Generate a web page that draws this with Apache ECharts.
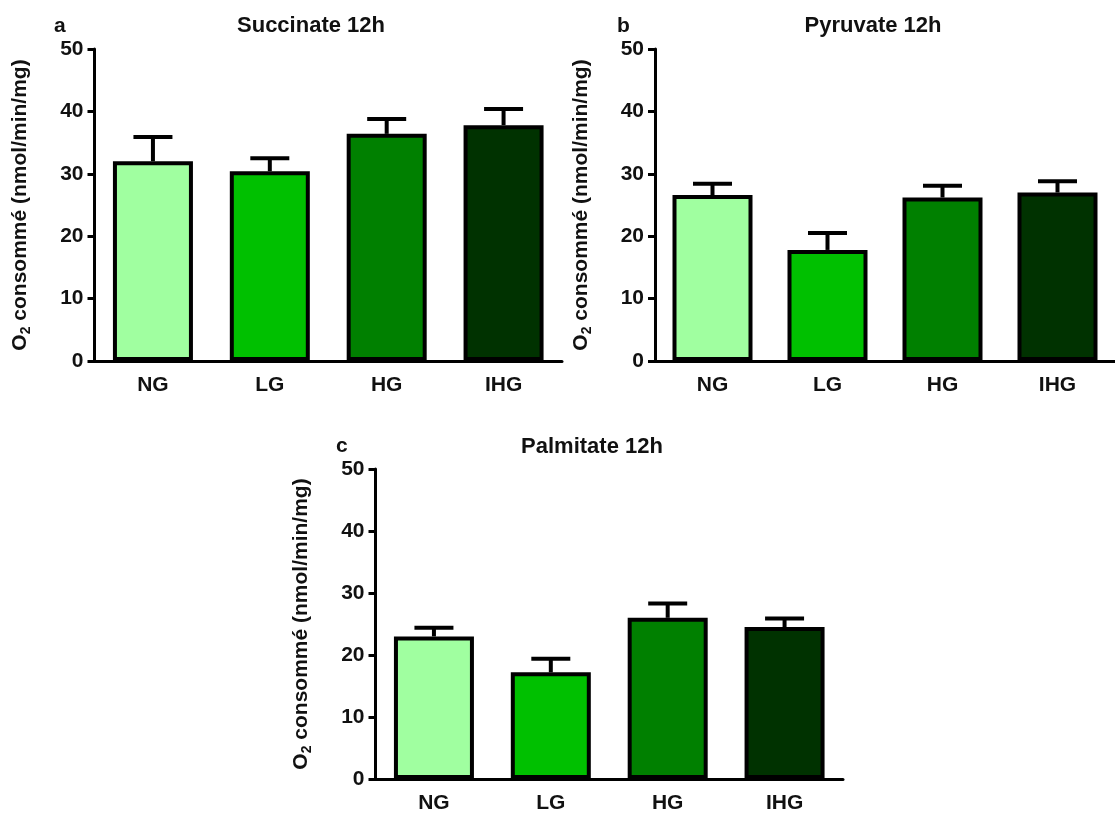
<!DOCTYPE html>
<html>
<head>
<meta charset="utf-8">
<script src="https://cdn.jsdelivr.net/npm/echarts@6/dist/echarts.min.js"></script>
<style>html,body{margin:0;padding:0;background:#fff}#c{width:1115px;height:814px}</style>
</head>
<body>
<div id="c"></div>
<script>
const categories = ['NG', 'LG', 'HG', 'IHG'];
const barColors = ['#A0FFA0', '#00C000', '#008000', '#003200'];
const yTicks = [0, 10, 20, 30, 40, 50];

const succinateMean = [32.0, 30.4, 36.4, 37.8];
const succinateErr  = [3.9, 2.1, 2.4, 2.6];
const pyruvateMean  = [26.6, 17.8, 26.2, 27.0];
const pyruvateErr   = [1.8, 2.7, 1.9, 1.8];
const palmitateMean = [23.0, 17.2, 26.0, 24.5];
const palmitateErr  = [1.4, 2.2, 2.3, 1.4];

const panelTitles = ['Succinate 12h', 'Pyruvate 12h', 'Palmitate 12h'];
const panelLetters = ['a', 'b', 'c'];
const yName = '{a|O}{s|2}{a| consommé (nmol/min/mg)}';

const FONT = 'Liberation Sans, Arial, sans-serif';
const chart = echarts.init(document.getElementById('c'), null, {renderer: 'canvas'});

const grids = [
  {left: 94.5, top: 49, width: 467.5, height: 312},
  {left: 655, top: 49, width: 467.5, height: 312},
  {left: 375.5, top: 469, width: 467.5, height: 312}
];
const means = [succinateMean, pyruvateMean, palmitateMean];
const errs = [succinateErr, pyruvateErr, palmitateErr];

const xAxes = grids.map((g, i) => ({
  type: 'category', gridIndex: i, data: categories,
  axisLine: {lineStyle: {color: '#000', width: 3}},
  axisTick: {alignWithLabel: true, length: 7, lineStyle: {color: '#000', width: 3}},
  axisLabel: {color: '#111', fontSize: 21, fontWeight: 'bold', fontFamily: FONT, margin: 14}
}));
const yAxes = grids.map((g, i) => ({
  type: 'value', gridIndex: i, min: yTicks[0], max: yTicks[yTicks.length - 1], interval: 10,
  splitLine: {show: false},
  axisLine: {show: true, lineStyle: {color: '#000', width: 3}},
  axisTick: {show: true, length: 7, lineStyle: {color: '#000', width: 3}},
  axisLabel: {color: '#111', fontSize: 21, fontWeight: 'bold', fontFamily: FONT, margin: 11},
  name: yName, nameLocation: 'middle', nameRotate: 90, nameGap: 61,
  nameTextStyle: {
    color: '#111', fontFamily: FONT,
    rich: {
      a: {fontSize: 21, fontWeight: 'bold', fontFamily: FONT, color: '#111', lineHeight: 26},
      s: {fontSize: 14, fontWeight: 'bold', fontFamily: FONT, color: '#111', lineHeight: 14, verticalAlign: 'bottom'}
    }
  }
}));

const series = [];
means.forEach((m, i) => {
  series.push({
    type: 'bar', xAxisIndex: i, yAxisIndex: i, barWidth: 80, z: 3,
    data: m.map((v, k) => ({value: v, itemStyle: {color: barColors[k]}})),
    itemStyle: {borderColor: '#000', borderWidth: 4},
    animation: false
  });
  series.push({
    type: 'custom', xAxisIndex: i, yAxisIndex: i, z: 2,
    data: m.map((v, k) => [k, v, v + errs[i][k]]),
    renderItem: function (params, api) {
      const base = api.coord([api.value(0), api.value(1)]);
      const top = api.coord([api.value(0), api.value(2)]);
      const hw = 19.5;
      return {
        type: 'group',
        children: [
          {type: 'line', shape: {x1: base[0], y1: base[1], x2: top[0], y2: top[1]}, style: {stroke: '#000', lineWidth: 4}},
          {type: 'line', shape: {x1: top[0] - hw, y1: top[1], x2: top[0] + hw, y2: top[1]}, style: {stroke: '#000', lineWidth: 4}}
        ]
      };
    },
    animation: false
  });
});

const titleStyle = {color: '#111', fontSize: 22, fontWeight: 'bold', fontFamily: FONT};
const letterStyle = {color: '#111', fontSize: 21, fontWeight: 'bold', fontFamily: FONT};
const titles = [
  {text: panelTitles[0], left: 311, top: 15, padding: 0, textAlign: 'center', textStyle: titleStyle},
  {text: panelTitles[1], left: 873, top: 15, padding: 0, textAlign: 'center', textStyle: titleStyle},
  {text: panelTitles[2], left: 592, top: 436, padding: 0, textAlign: 'center', textStyle: titleStyle},
  {text: panelLetters[0], left: 54, top: 16, padding: 0, textStyle: letterStyle},
  {text: panelLetters[1], left: 617, top: 16, padding: 0, textStyle: letterStyle},
  {text: panelLetters[2], left: 336, top: 436, padding: 0, textStyle: letterStyle}
];

chart.setOption({
  animation: false,
  backgroundColor: '#fff',
  title: titles,
  grid: grids,
  xAxis: xAxes,
  yAxis: yAxes,
  series: series
});
</script>
</body>
</html>
